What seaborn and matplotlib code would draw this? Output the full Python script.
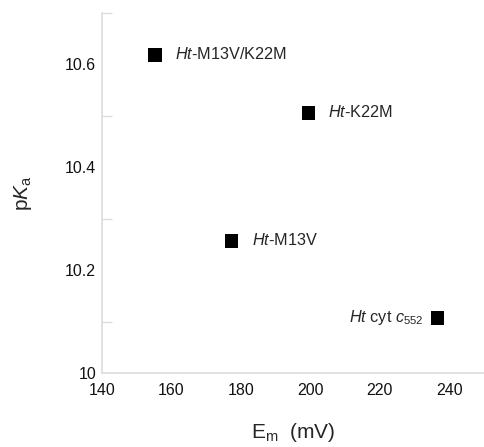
import pandas as pd
import matplotlib
matplotlib.use("Agg")
import matplotlib.pyplot as plt
import seaborn as sns
from matplotlib.ticker import MultipleLocator

# values
variants = ['Ht-M13V/K22M', 'Ht-K22M', 'Ht-M13V', 'Ht cyt c552']
em_mv = [155.4, 199.5, 177.4, 236.6]
pka = [10.618, 10.506, 10.257, 10.107]
labels = [r'$\it{Ht}$-M13V/K22M', r'$\it{Ht}$-K22M', r'$\it{Ht}$-M13V',
          r'$\it{Ht}$ cyt $\it{c}_{552}$']

df = pd.DataFrame({'variant': variants, 'Em': em_mv, 'pKa': pka})

sns.set_style("white")
plt.rcParams['font.family'] = ['Liberation Sans', 'DejaVu Sans']
plt.rcParams['mathtext.fontset'] = 'custom'
plt.rcParams['mathtext.rm'] = 'Liberation Sans'
plt.rcParams['mathtext.it'] = 'Liberation Sans:italic'

fig = plt.figure(figsize=(4.84, 4.47), dpi=100)
ax = fig.add_axes([0.210, 0.1656, 0.79, 0.8054])

sns.scatterplot(data=df, x='Em', y='pKa', marker='s', s=95, color='black',
                edgecolor='none', ax=ax, legend=False)

for x, y, lab in zip(em_mv, pka, labels):
    if x > 230:
        ax.annotate(lab, (x, y), xytext=(-14, 0), textcoords='offset pixels',
                    ha='right', va='center', fontsize=11.7)
    else:
        ax.annotate(lab, (x, y), xytext=(20, 1), textcoords='offset pixels',
                    ha='left', va='center', fontsize=11.7)

ax.set_xlim(140, 250)
ax.set_ylim(10, 10.7)
ax.xaxis.set_major_locator(MultipleLocator(20))
ax.yaxis.set_minor_locator(MultipleLocator(0.1))
ax.set_yticks([10, 10.2, 10.4, 10.6])
ax.set_yticklabels(['10', '10.2', '10.4', '10.6'])

for side in ['top', 'right']:
    ax.spines[side].set_visible(False)
for side in ['left', 'bottom']:
    ax.spines[side].set_color('#dcdcdc')
    ax.spines[side].set_linewidth(1.2)

ax.tick_params(axis='both', which='both', direction='in', color='#dcdcdc',
               width=1.0, labelsize=11.5, labelcolor='#111111')
ax.tick_params(axis='both', which='major', length=7)
ax.tick_params(axis='y', which='minor', length=7, left=True)
ax.tick_params(axis='x', pad=7)
ax.tick_params(axis='y', pad=4)

ax.set_xlabel(r'E$_{\rm m}$  (mV)', fontsize=15, labelpad=17)
ax.set_ylabel(r'p$\it{K}$$_{\rm a}$', fontsize=15, labelpad=22)

fig.savefig('out.png', dpi=100)
